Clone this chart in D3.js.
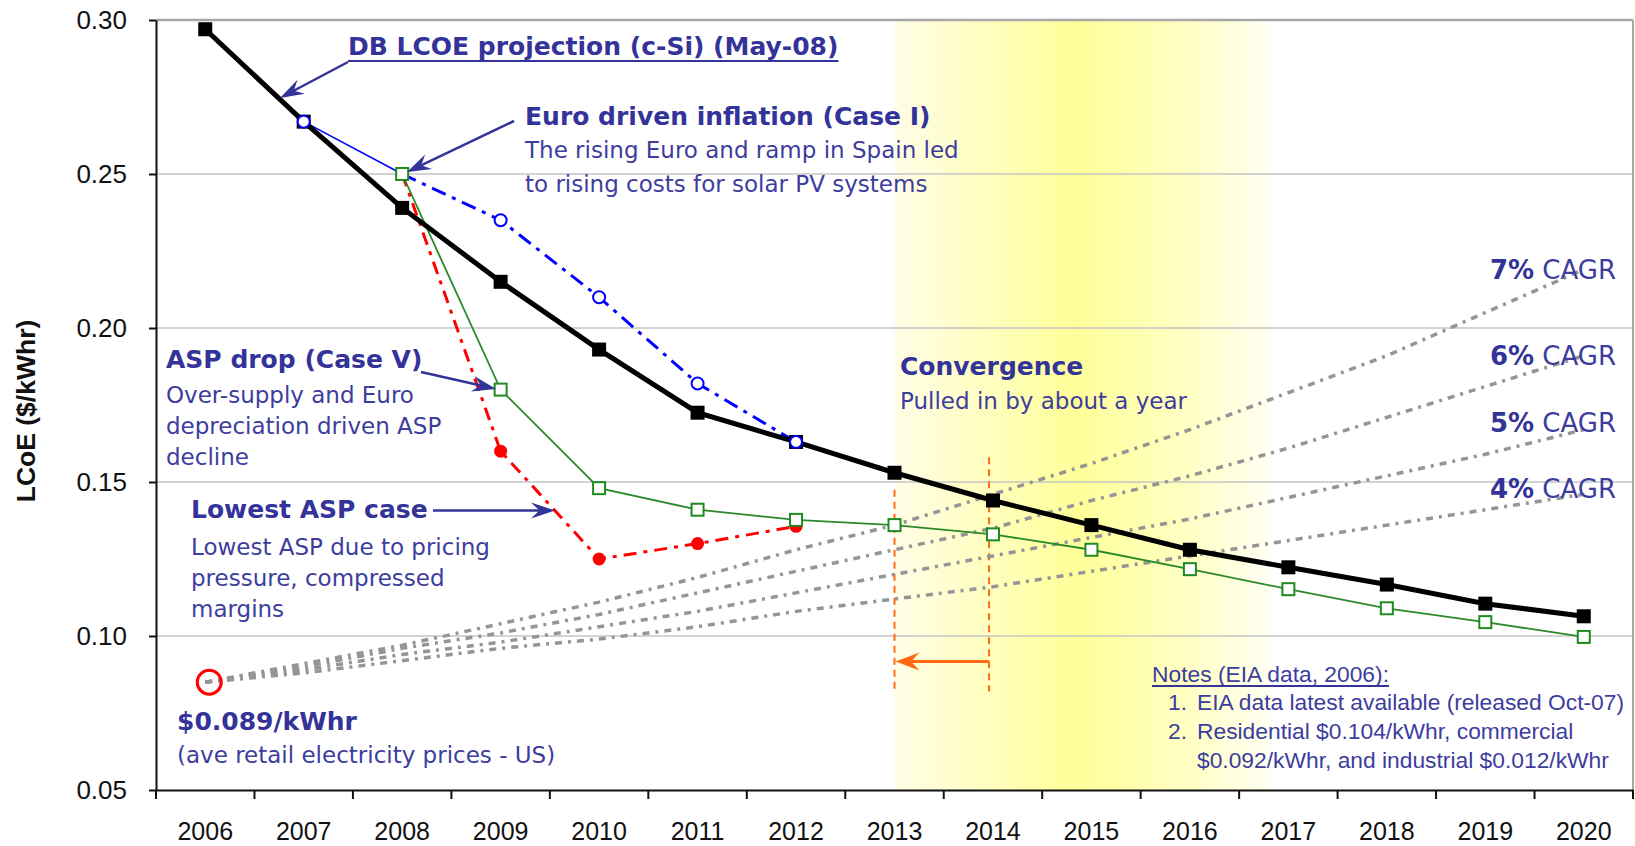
<!DOCTYPE html>
<html>
<head>
<meta charset="utf-8">
<script src="https://cdn.jsdelivr.net/npm/d3@7"></script>
<style>
	html, body { margin: 0; padding: 0; background: #fff; }
	svg { display: block; }
	.ttl { font-family: "DejaVu Sans", Verdana, sans-serif; font-weight: bold; font-size: 25px; fill: #333399; }
	.sub { font-family: "DejaVu Sans", Verdana, sans-serif; font-size: 23px; fill: #3d3d9e; }
	.note { font-family: "Liberation Sans", Arial, sans-serif; font-size: 22.8px; fill: #3d3d9e; }
	.axis text { font-family: "Liberation Sans", Arial, sans-serif; font-size: 25px; fill: #111; }
</style>
</head>
<body>
<div id="chart"></div>
<script>

// ---- data ----
var years = ["2006","2007","2008","2009","2010","2011","2012","2013","2014","2015","2016","2017","2018","2019","2020"];
var yTicks = [0.05, 0.10, 0.15, 0.20, 0.25, 0.30];

// DB LCOE projection (c-Si) (May-08)
var dbLcoe = [0.297, 0.267, 0.239, 0.215, 0.193, 0.1725, 0.163, 0.153, 0.144, 0.136, 0.128, 0.1223, 0.1167, 0.1105, 0.1064];

// Euro driven inflation (Case I)
var euroYears = ["2007","2008","2009","2010","2011","2012"];
var euroCase = [0.267, 0.250, 0.235, 0.210, 0.182, 0.163];

// ASP drop (Case V)
var aspYears = ["2008","2009","2010","2011","2012","2013","2014","2015","2016","2017","2018","2019","2020"];
var aspDrop = [0.250, 0.180, 0.148, 0.141, 0.1377, 0.136, 0.133, 0.128, 0.1217, 0.1152, 0.109, 0.1045, 0.0997];

// Lowest ASP case
var lowYears = ["2008","2009","2010","2011","2012"];
var lowestAsp = [0.250, 0.160, 0.125, 0.130, 0.1356];

// retail electricity price growth from $0.089/kWhr
var cagr7 = [0.085, 0.091, 0.097, 0.104, 0.111, 0.119, 0.128, 0.136, 0.146, 0.156, 0.167, 0.179, 0.191, 0.205, 0.219];
var cagr6 = [0.085, 0.090, 0.096, 0.101, 0.107, 0.114, 0.121, 0.128, 0.135, 0.144, 0.152, 0.161, 0.171, 0.181, 0.191];
var cagr5 = [0.085, 0.089, 0.094, 0.098, 0.103, 0.108, 0.114, 0.120, 0.126, 0.132, 0.138, 0.145, 0.152, 0.159, 0.167];
var cagr4 = [0.085, 0.088, 0.092, 0.096, 0.099, 0.103, 0.108, 0.112, 0.116, 0.121, 0.126, 0.131, 0.136, 0.141, 0.146];
var cagrLabels = ["7%", "6%", "5%", "4%"];

var retailStart = 0.085;

// ---- layout ----
var W = 1635, H = 846;
var margin = { left: 156, right: 1633, top: 20, bottom: 790 };

var svg = d3.select("#chart").append("svg")
	.attr("width", W)
	.attr("height", H);

var x = d3.scaleBand().domain(years).range([margin.left, margin.right]).padding(0);
var xc = function(d) { return x(d) + x.bandwidth() / 2; };
// continuous year scale for the highlight band and convergence marks
var xYear = d3.scaleLinear().domain([2006, 2020]).range([xc("2006"), xc("2020")]);

var y = d3.scaleLinear().domain([0.05, 0.30]).range([margin.bottom, margin.top]);

// highlight gradient
var defs = svg.append("defs");
var grad = defs.append("linearGradient").attr("id", "hl").attr("x1", 0).attr("x2", 1).attr("y1", 0).attr("y2", 0);
grad.append("stop").attr("offset", "0%").attr("stop-color", "#fffde6");
grad.append("stop").attr("offset", "48%").attr("stop-color", "#ffff99");
grad.append("stop").attr("offset", "78%").attr("stop-color", "#ffffc4");
grad.append("stop").attr("offset", "100%").attr("stop-color", "#fffff4");

svg.append("rect")
	.attr("x", xYear(2013))
	.attr("y", margin.top)
	.attr("width", xYear(2016.83) - xYear(2013))
	.attr("height", margin.bottom - margin.top)
	.attr("fill", "url(#hl)");

// gridlines
svg.append("g").selectAll("line")
	.data(yTicks.filter(function(d) { return d > 0.05; }))
	.enter().append("line")
	.attr("x1", margin.left).attr("x2", margin.right)
	.attr("y1", function(d) { return y(d); })
	.attr("y2", function(d) { return y(d); })
	.attr("stroke", function(d) { return d === 0.30 ? "#a8a8a8" : "#c4c4c4"; })
	.attr("stroke-width", function(d) { return d === 0.30 ? 2.5 : 1.5; });

// right frame
svg.append("line")
	.attr("x1", margin.right).attr("x2", margin.right)
	.attr("y1", margin.top).attr("y2", margin.bottom)
	.attr("stroke", "#a8a8a8").attr("stroke-width", 2);

// ---- axes ----
var yAxis = d3.axisLeft(y).tickValues(yTicks).tickFormat(d3.format(".2f")).tickSize(7).tickPadding(22).tickSizeOuter(0);
var gy = svg.append("g").attr("class", "axis").attr("transform", "translate(" + margin.left + ",0)").call(yAxis);
gy.select(".domain").attr("stroke", "#111").attr("stroke-width", 2);
gy.selectAll(".tick line").attr("stroke", "#111").attr("stroke-width", 2);
gy.selectAll("text").attr("dy", "0.34em").style("font-size", "26px");
gy.attr("font-family", null).attr("font-size", null);

var xAxis = d3.axisBottom(x).tickSize(0).tickSizeOuter(0);
var gx = svg.append("g").attr("class", "axis").attr("transform", "translate(0," + margin.bottom + ")").call(xAxis);
gx.select(".domain").attr("stroke", "#111").attr("stroke-width", 2);
gx.selectAll("text").attr("y", 50).attr("dy", null);
gx.attr("font-family", null).attr("font-size", null);

// tick marks between the years
gx.selectAll(".edge")
	.data(years.concat(["end"]))
	.enter().append("line")
	.attr("class", "edge")
	.attr("x1", function(d) { return d === "end" ? margin.right : x(d); })
	.attr("x2", function(d) { return d === "end" ? margin.right : x(d); })
	.attr("y1", 0).attr("y2", 9)
	.attr("stroke", "#111").attr("stroke-width", 2);

// y label
svg.append("text")
	.attr("transform", "translate(35,411) rotate(-90)")
	.attr("text-anchor", "middle")
	.attr("font-family", "Liberation Sans, Arial, sans-serif")
	.attr("font-weight", "bold")
	.attr("font-size", 26.5)
	.attr("fill", "#111")
	.text("LCoE ($/kWhr)");

// ---- convergence marks ----
var orange = "#ff6a13";
svg.append("line")
	.attr("x1", xYear(2013)).attr("x2", xYear(2013))
	.attr("y1", y(0.1475)).attr("y2", y(0.082))
	.attr("stroke", orange).attr("stroke-width", 2).attr("stroke-dasharray", "7,5");
svg.append("line")
	.attr("x1", xYear(2013.96)).attr("x2", xYear(2013.96))
	.attr("y1", y(0.158)).attr("y2", y(0.082))
	.attr("stroke", orange).attr("stroke-width", 2).attr("stroke-dasharray", "7,5");

// arrow helper: shaft plus swept head with tip at (x2,y2)
function arrow(x1, y1, x2, y2, color, w, len, half) {
	var a = Math.atan2(y2 - y1, x2 - x1);
	var d = Math.hypot(x2 - x1, y2 - y1);
	var g = svg.append("g").attr("transform", "translate(" + x2 + "," + y2 + ") rotate(" + (a * 180 / Math.PI) + ")");
	g.append("line")
		.attr("x1", -d).attr("y1", 0).attr("x2", -len * 0.6).attr("y2", 0)
		.attr("stroke", color).attr("stroke-width", w);
	g.append("path")
		.attr("d", "M0,0 L" + (-len) + "," + (-half) + " L" + (-len * 0.65) + ",0 L" + (-len) + "," + half + " Z")
		.attr("fill", color);
}

arrow(xYear(2013.96), y(0.0917), xYear(2013) + 1, y(0.0917), orange, 3, 24, 9);

// ---- CAGR lines ----
var cagrSeries = [cagr7, cagr6, cagr5, cagr4];
var line = d3.line()
	.x(function(d) { return xc(d.year); })
	.y(function(d) { return y(d.v); });

cagrSeries.forEach(function(vals) {
	svg.append("path")
		.datum(years.map(function(yr, i) { return { year: yr, v: vals[i] }; }))
		.attr("d", line)
		.attr("fill", "none")
		.attr("stroke", "#959595")
		.attr("stroke-width", 3.5)
		.attr("stroke-dasharray", "7,6,3,6");
});

// retail price marker
svg.append("circle")
	.attr("cx", xc("2006") + 4)
	.attr("cy", y(retailStart))
	.attr("r", 12)
	.attr("fill", "none")
	.attr("stroke", "#ff0000")
	.attr("stroke-width", 3);

// ---- series lines ----
function pts(ys, vs) { return ys.map(function(yr, i) { return { year: yr, v: vs[i] }; }); }

// lowest ASP (red dash-dot)
svg.append("path").datum(pts(lowYears, lowestAsp)).attr("d", line)
	.attr("fill", "none").attr("stroke", "#ff0000").attr("stroke-width", 3)
	.attr("stroke-dasharray", "13,7,4,7");

// euro driven (blue), solid first segment then dash-dot
svg.append("path").datum(pts(euroYears.slice(0, 2), euroCase.slice(0, 2))).attr("d", line)
	.attr("fill", "none").attr("stroke", "#0000ff").attr("stroke-width", 1.6);
svg.append("path").datum(pts(euroYears.slice(1), euroCase.slice(1))).attr("d", line)
	.attr("fill", "none").attr("stroke", "#0000ff").attr("stroke-width", 3)
	.attr("stroke-dasharray", "15,7,4,7");

// ASP drop (green)
svg.append("path").datum(pts(aspYears, aspDrop)).attr("d", line)
	.attr("fill", "none").attr("stroke", "#2a8a2a").attr("stroke-width", 1.8);

// DB LCOE (black)
svg.append("path").datum(pts(years, dbLcoe)).attr("d", line)
	.attr("fill", "none").attr("stroke", "#000").attr("stroke-width", 5);

// ---- markers ----
svg.append("g").selectAll("circle")
	.data(pts(lowYears.slice(1), lowestAsp.slice(1)))
	.enter().append("circle")
	.attr("cx", function(d) { return xc(d.year); })
	.attr("cy", function(d) { return y(d.v); })
	.attr("r", 6.5)
	.attr("fill", "#ff0000");

svg.append("g").selectAll("rect")
	.data(pts(years, dbLcoe))
	.enter().append("rect")
	.attr("x", function(d) { return xc(d.year) - 7; })
	.attr("y", function(d) { return y(d.v) - 7; })
	.attr("width", 14).attr("height", 14)
	.attr("fill", "#000");

svg.append("g").selectAll("circle")
	.data(pts(euroYears, euroCase).filter(function(d) { return d.year !== "2008"; }))
	.enter().append("circle")
	.attr("cx", function(d) { return xc(d.year); })
	.attr("cy", function(d) { return y(d.v); })
	.attr("r", 6)
	.attr("fill", "#fff")
	.attr("stroke", "#0000ff")
	.attr("stroke-width", 2);

svg.append("g").selectAll("rect")
	.data(pts(aspYears, aspDrop))
	.enter().append("rect")
	.attr("x", function(d) { return xc(d.year) - 6; })
	.attr("y", function(d) { return y(d.v) - 6; })
	.attr("width", 12).attr("height", 12)
	.attr("fill", "#fff")
	.attr("stroke", "#1f8a1f")
	.attr("stroke-width", 2);

// ---- annotations ----
var navy = "#333399";

// DB LCOE projection title with underline
var dbT = svg.append("text").attr("class", "ttl").attr("x", 348).attr("y", 55).text("DB LCOE projection (c-Si) (May-08)");
var dbW = dbT.node().getComputedTextLength();
svg.append("line").attr("x1", 348).attr("x2", 348 + dbW).attr("y1", 61).attr("y2", 61)
	.attr("stroke", navy).attr("stroke-width", 2);
arrow(348, 62, 280, 98, navy, 2.5, 24, 8);

// Euro driven inflation
svg.append("text").attr("class", "ttl").attr("x", 525).attr("y", 125).text("Euro driven inflation (Case I)");
svg.append("text").attr("class", "sub").attr("x", 525).attr("y", 158).text("The rising Euro and ramp in Spain led");
svg.append("text").attr("class", "sub").attr("x", 525).attr("y", 192).text("to rising costs for solar PV systems");
arrow(514, 121, 407, 172, navy, 2.5, 24, 8);

// ASP drop
svg.append("text").attr("class", "ttl").attr("x", 166).attr("y", 368).text("ASP drop (Case V)");
svg.append("text").attr("class", "sub").attr("x", 166).attr("y", 403).text("Over-supply and Euro");
svg.append("text").attr("class", "sub").attr("x", 166).attr("y", 434).text("depreciation driven ASP");
svg.append("text").attr("class", "sub").attr("x", 166).attr("y", 465).text("decline");
arrow(421, 372, 496, 389, navy, 2.5, 24, 8);

// Lowest ASP
svg.append("text").attr("class", "ttl").attr("x", 191).attr("y", 518).text("Lowest ASP case");
svg.append("text").attr("class", "sub").attr("x", 191).attr("y", 555).text("Lowest ASP due to pricing");
svg.append("text").attr("class", "sub").attr("x", 191).attr("y", 586).text("pressure, compressed");
svg.append("text").attr("class", "sub").attr("x", 191).attr("y", 617).text("margins");
arrow(433, 510.5, 555, 510.5, navy, 2.5, 24, 8);

// Convergence
svg.append("text").attr("class", "ttl").attr("x", 900).attr("y", 375).text("Convergence");
svg.append("text").attr("class", "sub").attr("x", 900).attr("y", 409).text("Pulled in by about a year");

// retail price
svg.append("text").attr("class", "ttl").attr("x", 177).attr("y", 730).text("$0.089/kWhr");
svg.append("text").attr("class", "sub").attr("x", 177).attr("y", 763).text("(ave retail electricity prices - US)");

// CAGR labels
var cagrBase = [279, 365, 432, 498];
cagrLabels.forEach(function(lbl, i) {
	var t = svg.append("text")
		.attr("x", 1616).attr("y", cagrBase[i])
		.attr("text-anchor", "end")
		.attr("font-family", "DejaVu Sans, Verdana, sans-serif")
		.attr("font-size", 26)
		.attr("fill", navy);
	t.append("tspan").attr("font-weight", "bold").text(lbl);
	t.append("tspan").attr("fill", "#3d3d9e").text(" CAGR");
});

// notes
var nt = svg.append("text").attr("class", "note").attr("x", 1152).attr("y", 682).text("Notes (EIA data, 2006):");
svg.append("line").attr("x1", 1152).attr("x2", 1152 + nt.node().getComputedTextLength())
	.attr("y1", 686).attr("y2", 686).attr("stroke", navy).attr("stroke-width", 2);
svg.append("text").attr("class", "note").attr("x", 1168).attr("y", 710).text("1.");
svg.append("text").attr("class", "note").attr("x", 1197).attr("y", 710).text("EIA data latest available (released Oct-07)");
svg.append("text").attr("class", "note").attr("x", 1168).attr("y", 739).text("2.");
svg.append("text").attr("class", "note").attr("x", 1197).attr("y", 739).text("Residential $0.104/kWhr, commercial");
svg.append("text").attr("class", "note").attr("x", 1197).attr("y", 768).text("$0.092/kWhr, and industrial $0.012/kWhr");

</script>
</body>
</html>
